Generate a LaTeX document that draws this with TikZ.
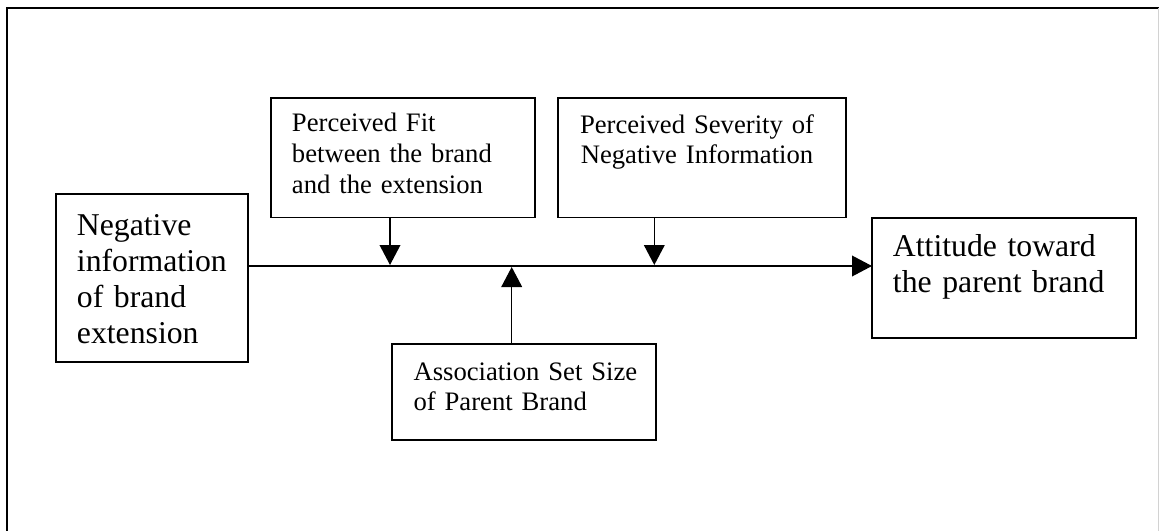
\documentclass[tikz,border=0pt]{standalone}
\usepackage{fontspec}
\setmainfont{Liberation Serif}
\usetikzlibrary{arrows.meta,fit}
\begin{document}
\begin{tikzpicture}[x=0.75pt,y=-0.75pt,
  box/.style={draw, line width=1.1pt, inner sep=0pt, outer sep=0pt},
  bigtxt/.style={anchor=base west, inner sep=0pt, text width=200pt, align=left,
    font=\fontsize{23.8}{27}\selectfont},
  smalltxt/.style={anchor=base west, inner sep=0pt, text width=200pt, align=left,
    font=\fontsize{20}{23}\selectfont},
  arr/.style={line width=1.1pt, -{Triangle[length=15pt,width=15.5pt]}}]
\useasboundingbox (0,0) rectangle (1159,531);
% outer frame (cut at right and bottom)
\draw[line width=1.1pt] (7,545) -- (7,8) -- (1170,8);
\draw[gray!35, line width=0.8pt] (1158.3,8) -- (1158.3,545);

% boxes
\node[box, fit={(56,194) (248,362)}] (neg) {};
\node[box, fit={(271,98) (535,217.7)}] (fit) {};
\node[box, fit={(558,98) (846,217.7)}] (sev) {};
\node[box, fit={(872,218) (1136,338)}] (att) {};
\node[box, fit={(392,344) (656,440)}] (ass) {};

% texts
\node[bigtxt] (negt) at (76.7,235) {Negative\\information\\of brand\\extension};
\node[smalltxt, font=\fontsize{20}{23.1}\selectfont] (fitt) at (291.7,131.7) {Perceived Fit\\between the brand\\and the extension};
\node[smalltxt, anchor=base, align=center, font=\fontsize{20}{22.5}\selectfont] (sevt) at (697,133.3) {Perceived Severity of\\Negative Information};
\node[bigtxt] (attt) at (892.7,256) {Attitude toward\\the parent brand};
\node[smalltxt, font=\fontsize{20}{22}\selectfont] (asst) at (413.3,380.7) {Association Set Size\\of Parent Brand};

% connectors
\coordinate (p1) at (390,265);
\coordinate (p2) at (654.3,265);
\coordinate (p3) at (511.7,267);
\draw[arr] (neg.east |- 0,266) -- (att.west |- 0,266);
\draw[arr] (p1 |- fit.south) -- (p1);
\draw[arr] (p2 |- sev.south) -- (p2);
\draw[arr] (p3 |- ass.north) -- (p3);
\end{tikzpicture}
\end{document}
